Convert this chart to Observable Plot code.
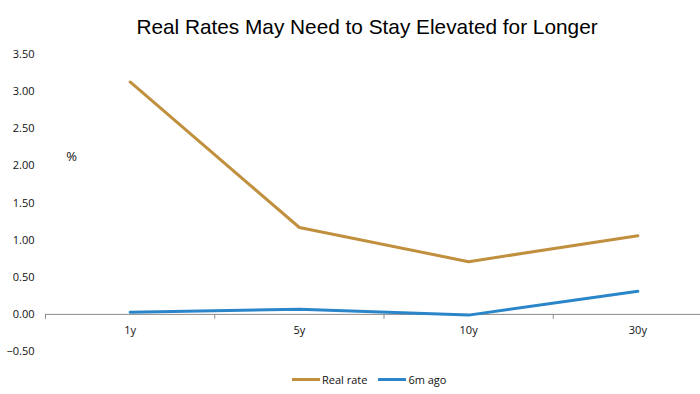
<!DOCTYPE html>
<html>
<head>
<meta charset="utf-8">
<script src="https://cdn.jsdelivr.net/npm/d3@7"></script>
<script src="https://cdn.jsdelivr.net/npm/@observablehq/plot@0.6"></script>
<style>
  html, body { margin: 0; padding: 0; background: #fff; width: 700px; height: 394px; overflow: hidden; }
  #title { height: 30px; padding-top: 15px; line-height: 24px; text-align: center; font-family: "Liberation Sans", Arial, sans-serif; font-size: 20.8px; color: #000; padding-left: 34px; }
  #legend { display: flex; align-items: center; height: 29px; font-family: "Open Sans", sans-serif; font-size: 11px; color: #111; padding-left: 292px; }
  .sw { display: inline-block; width: 28px; height: 3px; margin-right: 2px; }
  .item { display: flex; align-items: center; margin-right: 11px; }
</style>
</head>
<body>
<div id="title">Real Rates May Need to Stay Elevated for Longer</div>
<div id="chart"></div>
<div id="legend"></div>
<script>
const tenors = ["1y", "5y", "10y", "30y"];
const realRate = [3.13, 1.17, 0.71, 1.06];
const sixMonthsAgo = [0.03, 0.07, -0.01, 0.31];
const seriesNames = ["Real rate", "6m ago"];
const seriesColors = ["#C0903E", "#2A86C8"];
const yTicks = [-0.5, 0, 0.5, 1, 1.5, 2, 2.5, 3, 3.5];

const rows = tenors.flatMap((t, i) => [
  {i, tenor: t, series: seriesNames[0], value: realRate[i]},
  {i, tenor: t, series: seriesNames[1], value: sixMonthsAgo[i]}
]);
const boundaries = d3.range(tenors.length + 1).map(k => k - 0.5);
const tickShape = {draw(context, l) { context.moveTo(0, 0); context.lineTo(0, -l); }};

const plot = Plot.plot({
  width: 700,
  height: 320,
  marginLeft: 45,
  marginRight: 0,
  marginTop: 9,
  marginBottom: 14,
  style: {fontFamily: "Open Sans, sans-serif", fontSize: "11px", color: "#111"},
  x: {type: "linear", domain: [-0.5, tenors.length - 0.5], range: [45, 722], axis: null},
  y: {domain: [-0.5, 3.5], axis: null},
  color: {domain: seriesNames, range: seriesColors},
  marks: [
    Plot.axisY({ticks: yTicks, tickSize: 0, tickPadding: 11, tickFormat: d3.format(".2f"), label: null}),
    Plot.ruleY([0], {stroke: "#8a8a8a", strokeWidth: 1}),
    Plot.vector(boundaries, {x: d => d, y: 0, length: 4, rotate: 180, anchor: "start", shape: tickShape, stroke: "#8a8a8a", strokeWidth: 1}),
    Plot.text(tenors, {x: (d, i) => i, y: 0, text: d => d, dy: 16}),
    Plot.line(rows, {x: "i", y: "value", z: "series", stroke: "series", strokeWidth: 3}),
    Plot.text(["%"], {frameAnchor: "top-left", dx: 26, dy: 97, text: d => d, textAnchor: "middle", fontSize: 13})
  ]
});
document.getElementById("chart").appendChild(plot);

const legend = document.getElementById("legend");
seriesNames.forEach((name, k) => {
  const item = document.createElement("div");
  item.className = "item";
  const sw = document.createElement("span");
  sw.className = "sw";
  sw.style.background = seriesColors[k];
  const label = document.createElement("span");
  label.textContent = name;
  item.appendChild(sw);
  item.appendChild(label);
  legend.appendChild(item);
});
</script>
</body>
</html>
